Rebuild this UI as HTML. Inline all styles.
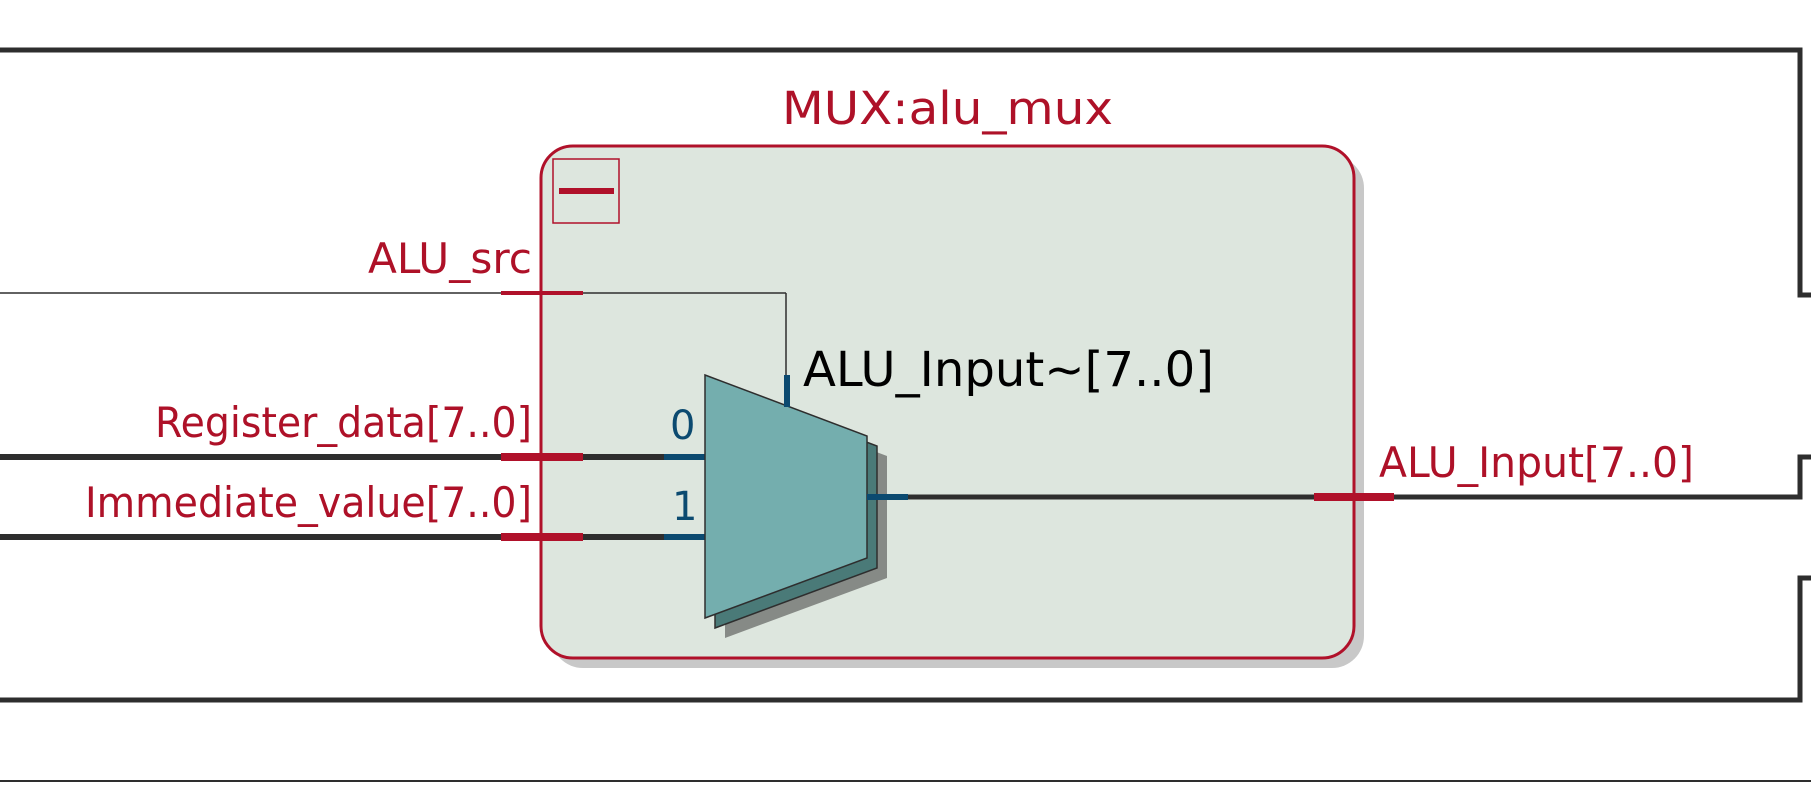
<!DOCTYPE html>
<html><head><meta charset="utf-8"><style>
html,body{margin:0;padding:0;background:#fff;width:1811px;height:791px;overflow:hidden}
svg{display:block}
text{font-family:"DejaVu Sans","Liberation Sans",sans-serif}
</style></head><body>
<svg width="1811" height="791" viewBox="0 0 1811 791" xmlns="http://www.w3.org/2000/svg">
<g fill="none" stroke="#2e2e2e" stroke-width="5">
<polyline points="0,50 1800,50 1800,295 1811,295"/>
<polyline points="1811,578 1800,578 1800,700 0,700"/>
</g>
<line x1="0" y1="781" x2="1811" y2="781" stroke="#2e2e2e" stroke-width="2"/>
<!-- box shadow -->
<rect x="551" y="156" width="813" height="512" rx="32" fill="#c8c8c8"/>
<rect x="541" y="146" width="813" height="512" rx="32" fill="#dde6de" stroke="#b0112a" stroke-width="3"/>
<polyline points="1811,457 1800,457 1800,497 907,497" fill="none" stroke="#2e2e2e" stroke-width="5"/>
<text x="782" y="124" font-size="45" fill="#ae1128" textLength="331" lengthAdjust="spacingAndGlyphs">MUX:alu_mux</text>
<rect x="553" y="159" width="66" height="64" fill="none" stroke="#b0112a" stroke-width="1.5"/>
<rect x="559" y="188" width="55" height="6" fill="#b0112a"/>
<!-- inputs -->
<line x1="0" y1="293" x2="786" y2="293" stroke="#2e2e2e" stroke-width="1.5"/>
<line x1="786" y1="293" x2="786" y2="376" stroke="#2e2e2e" stroke-width="1.5"/>
<line x1="0" y1="457" x2="664" y2="457" stroke="#2e2e2e" stroke-width="6"/>
<line x1="0" y1="537" x2="664" y2="537" stroke="#2e2e2e" stroke-width="6"/>
<line x1="664" y1="457" x2="705" y2="457" stroke="#0b4a70" stroke-width="6"/>
<line x1="664" y1="537" x2="705" y2="537" stroke="#0b4a70" stroke-width="6"/>
<rect x="501" y="291" width="82" height="4" fill="#b0112a"/>
<rect x="501" y="453" width="82" height="8" fill="#b0112a"/>
<rect x="501" y="533" width="82" height="8" fill="#b0112a"/>
<rect x="1314" y="493" width="80" height="8" fill="#b0112a"/>
<text x="532" y="273" font-size="42" fill="#ae1128" text-anchor="end" textLength="164" lengthAdjust="spacingAndGlyphs">ALU_src</text>
<text x="532" y="437" font-size="42" fill="#ae1128" text-anchor="end" textLength="377" lengthAdjust="spacingAndGlyphs">Register_data[7..0]</text>
<text x="532" y="517" font-size="42" fill="#ae1128" text-anchor="end" textLength="447" lengthAdjust="spacingAndGlyphs">Immediate_value[7..0]</text>
<text x="670" y="439" font-size="40" fill="#0b4a70">0</text>
<text x="672" y="520" font-size="40" fill="#0b4a70">1</text>
<!-- mux -->
<polygon points="725,395 887,456 887,578 725,638" fill="#868a86"/>
<polygon points="715,385 877,446 877,568 715,628" fill="#4a7a78" stroke="#2e2e2e" stroke-width="1.5"/>
<polygon points="705,375 867,436 867,558 705,618" fill="#74aeae" stroke="#2e2e2e" stroke-width="1.5"/>
<line x1="787" y1="375" x2="787" y2="407" stroke="#0b4a70" stroke-width="6"/>
<line x1="867" y1="497" x2="908" y2="497" stroke="#0b4a70" stroke-width="6"/>
<text x="803" y="386" font-size="48" fill="#000" textLength="411" lengthAdjust="spacingAndGlyphs">ALU_Input~[7..0]</text>
<text x="1379" y="477" font-size="42" fill="#ae1128" textLength="315" lengthAdjust="spacingAndGlyphs">ALU_Input[7..0]</text>
</svg>
</body></html>
